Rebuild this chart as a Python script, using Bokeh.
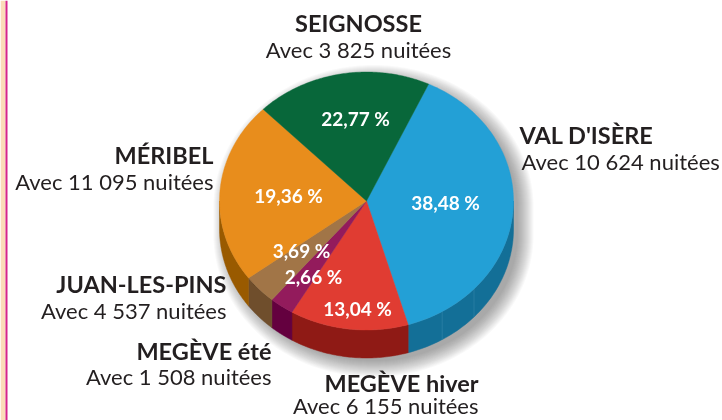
import numpy as np
from bokeh.plotting import figure
from bokeh.embed import file_html
from bokeh.resources import INLINE
from bokeh.core.properties import value

# Drawn slice shares, clockwise from the Val d'Isère slice (as pictured)
names = ["VAL D'ISÈRE", "MEGÈVE hiver", "MEGÈVE été", "JUAN-LES-PINS", "MÉRIBEL", "SEIGNOSSE"]
shares = [38.48, 13.04, 2.66, 3.69, 22.77, 19.36]
pct_labels = ["38,48 %", "13,04 %", "2,66 %", "3,69 %", "19,36 %", "22,77 %"]
sub_labels = ["Avec 10 624 nuitées", "Avec 6 155 nuitées", "Avec 1 508 nuitées",
              "Avec 4 537 nuitées", "Avec 11 095 nuitées", "Avec 3 825 nuitées"]
top_colors = ["#23A0D6", "#E03C32", "#931B5C", "#A17547", "#E88D1C", "#08673A"]
side_colors = ["#136F97", "#8F1A15", "#64003F", "#6F4E2C", "#995A00", "#08673A"]

# Layout (page pixels)
W, H = 722, 420
CX, CY, RX, RY, DEPTH = 366, 200.5, 147, 129, 28
START = 25.0
name_pos = [(519, 134, "left"), (478, 382, "right"), (271, 350, "right"),
            (226, 283, "right"), (213, 154, "right"), (358, 22, "center")]
sub_pos = [(521, 161, "left"), (478, 405, "right"), (271, 376, "right"),
           (226, 310, "right"), (213, 181, "right"), (358, 49, "center")]
pct_pos = [(445, 202), (357, 308), (313, 276), (301, 250), (288, 195), (355, 118)]

p = figure(width=W, height=H, x_range=(0, W), y_range=(H, 0), toolbar_location=None,
           output_backend="svg", min_border=0, outline_line_color=None,
           background_fill_color="white", border_fill_color="white")
p.axis.visible = False
p.grid.visible = False
p.styles = {"position": "fixed", "left": "0", "top": "0"}

# page edge stripes
p.quad(left=[0], right=[5], top=[0], bottom=[H], fill_color="#FBDDB8", line_color=None)
p.quad(left=[5], right=[7], top=[0], bottom=[H], fill_color="#D6258C", line_color=None)


def pt(a, dy=0.0, grow=0.0):
    r = np.radians(a)
    return CX + (RX + grow) * np.sin(r), CY - (RY + grow) * np.cos(r) + dy


# soft shadow
th = np.linspace(0, 360, 241)
for d in np.arange(13, -4, -1.0):
    xs = CX + 7 + (RX + d) * np.sin(np.radians(th))
    ys = CY + 6 - (RY + d) * np.cos(np.radians(th)) + np.where(np.cos(np.radians(th)) < 0, DEPTH, 0)
    p.patch(xs, ys, fill_color="#333333", fill_alpha=0.03, line_color=None)

edges = START + np.concatenate([[0], np.cumsum(shares)]) * 3.6

# side walls (only the near half of the pie)
for i in range(len(shares)):
    a0, a1 = max(edges[i], 90), min(edges[i + 1], 270)
    if a1 <= a0:
        continue
    a = np.linspace(a0, a1, 60)
    x, y = pt(a)
    x2, y2 = pt(a[::-1], DEPTH)
    p.patch(np.r_[x, x2], np.r_[y, y2], fill_color=side_colors[i], line_color=side_colors[i], line_width=0.5)

# seams on the blue wall
for a in (133.0, 149.0):
    x, y = pt(a)
    p.line([x, x], [y, y + DEPTH], line_color="#2F83A8", line_width=0.7)

# top face
for i in range(len(shares)):
    a = np.linspace(edges[i], edges[i + 1], 120)
    x, y = pt(a)
    p.patch(np.r_[CX, x], np.r_[CY, y], fill_color=top_colors[i], line_color=top_colors[i], line_width=0.4)

INK = "#231F20"
for i in range(len(names)):
    x, y, al = name_pos[i]
    p.text([x], [y], text=[names[i]], text_font=value("Lato"), text_font_style="bold",
           text_font_size="23.5px", text_color=INK, text_align=al, text_baseline="middle")
    x, y, al = sub_pos[i]
    p.text([x], [y], text=[sub_labels[i]], text_font=value("Lato"), text_font_size="22px",
           text_color=INK, text_align=al, text_baseline="middle")
    x, y = pct_pos[i]
    p.text([x], [y], text=[pct_labels[i]], text_font=value("Lato"), text_font_style="bold",
           text_font_size="19px", text_color="white", text_align="center", text_baseline="middle")

open("out.html", "w").write(file_html(p, INLINE))
